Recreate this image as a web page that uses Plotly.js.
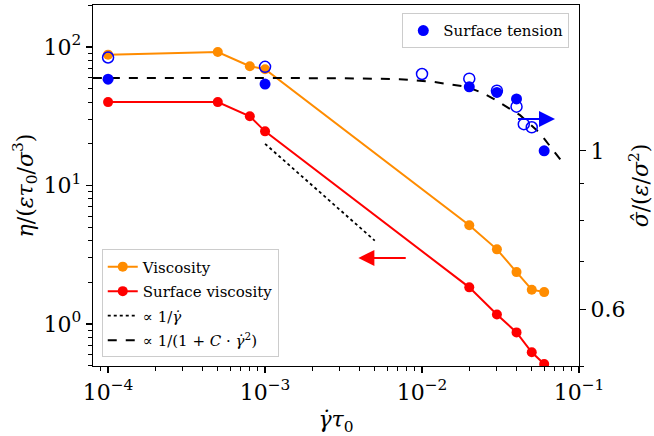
<!DOCTYPE html>
<html>
<head>
<meta charset="utf-8">
<script src="https://cdn.plot.ly/plotly-3.0.1.min.js"></script>
<style>html,body{margin:0;padding:0;background:#fff}#chart{width:654px;height:436px}</style>
</head>
<body>
<div id="chart"></div>
<script>
// ---- data ----
const shearRate = [1e-4, 5e-4, 8e-4, 1e-3, 0.02, 0.03, 0.04, 0.05, 0.06];
const viscosity = [88, 92, 72.6, 69, 5.16, 3.46, 2.37, 1.77, 1.70];
const surfaceViscosity = [40, 40, 31.6, 24.6, 1.84, 1.17, 0.87, 0.625, 0.514];

const slopeX = [1e-3, 5e-3];
const slopeY = [20, 4];

const fitX = [8e-5, 1e-3, 3e-3, 0.0072, 0.0118, 0.0193, 0.0246, 0.030, 0.0421, 0.0565, 0.0787];
const fitY = [1.265, 1.265, 1.264, 1.260, 1.249, 1.229, 1.204, 1.175, 1.122, 1.058, 0.963];

const tensionFilledX = [1e-4, 1e-3, 0.02, 0.03, 0.04, 0.06];
const tensionFilledY = [1.26, 1.24, 1.229, 1.207, 1.182, 1.0];

const tensionOpenX = [1e-4, 1e-3, 0.01, 0.02, 0.03, 0.04, 0.0445, 0.05];
const tensionOpenY = [1.351, 1.311, 1.281, 1.262, 1.214, 1.153, 1.09, 1.079];

const xTickVals = [1e-4, 1e-3, 1e-2, 1e-1];
const xTickText = ['10<sup>−4</sup>', '10<sup>−3</sup>', '10<sup>−2</sup>', '10<sup>−1</sup>'];
const yTickVals = [1, 10, 100];
const yTickText = ['10<sup>0</sup>', '10<sup>1</sup>', '10<sup>2</sup>'];
const y2TickVals = [0.6, 1];
const y2TickText = ['0.6', '1'];

// minor tick positions (log decades)
const xMinor = [9e-5];
[1e-4, 1e-3, 1e-2].forEach(d => { for (let k = 2; k <= 9; k++) xMinor.push(k * d); });
const yMinor = [0.5, 0.6, 0.7, 0.8, 0.9];
[1, 10].forEach(d => { for (let k = 2; k <= 9; k++) yMinor.push(k * d); });
yMinor.push(200);
const y2Minor = [0.5, 0.7, 0.8, 0.9];

const FONT = 'DejaVu Serif';

const traces = [
  {x: shearRate, y: viscosity, mode: 'lines+markers', name: 'Viscosity',
   line: {color: '#FF8C00', width: 2}, marker: {color: '#FF8C00', size: 10},
   legend: 'legend', legendgroup: 'a'},
  {x: shearRate, y: surfaceViscosity, mode: 'lines+markers', name: 'Surface viscosity',
   line: {color: '#FF0000', width: 2}, marker: {color: '#FF0000', size: 10},
   legend: 'legend', legendgroup: 'b'},
  {x: slopeX, y: slopeY, mode: 'lines', name: '∝ 1/<i>γ̇</i>',
   line: {color: 'black', width: 1.8, dash: 'dot'}, legend: 'legend', legendgroup: 'c'},
  {x: fitX, y: fitY, yaxis: 'y2', mode: 'lines', name: '∝ 1/(1 + <i>C</i> · <i>γ̇</i><sup>2</sup>)',
   line: {color: 'black', width: 2, dash: 'dash'}, legend: 'legend', legendgroup: 'd'},
  {x: tensionOpenX, y: tensionOpenY, yaxis: 'y2', mode: 'markers', showlegend: false,
   marker: {symbol: 'circle-open', color: '#0000FF', size: 11, line: {width: 1.5, color: '#0000FF'}}},
  {x: tensionFilledX, y: tensionFilledY, yaxis: 'y2', mode: 'markers', name: 'Surface tension',
   marker: {color: '#0000FF', size: 11}, legend: 'legend2'}
];

const axisCommon = {
  showgrid: false, zeroline: false, showline: true, linecolor: 'black', linewidth: 1.2,
  ticks: 'outside', ticklen: 6, tickwidth: 1.2, tickcolor: 'black',
  tickfont: {family: FONT, size: 22, color: 'black'}, tickmode: 'array'
};

const layout = {
  width: 654, height: 436,
  margin: {l: 93, r: 75, t: 5, b: 70},
  paper_bgcolor: 'white', plot_bgcolor: 'white',
  font: {family: FONT, color: 'black'},
  xaxis: Object.assign({}, axisCommon, {
    type: 'log', range: [-4.096, -1], mirror: true,
    tickvals: xTickVals, ticktext: xTickText,
    minor: {tickmode: 'array', tickvals: xMinor, ticks: 'outside', ticklen: 3.5, tickwidth: 1, tickcolor: 'black', showgrid: false},
    title: {text: '<i>γ̇τ</i><sub>0</sub>', font: {family: FONT, size: 22}, standoff: 10}
  }),
  yaxis: Object.assign({}, axisCommon, {
    type: 'log', range: [-0.303, 2.303],
    tickvals: yTickVals, ticktext: yTickText,
    minor: {tickmode: 'array', tickvals: yMinor, ticks: 'outside', ticklen: 3.5, tickwidth: 1, tickcolor: 'black', showgrid: false},
    title: {text: '<i>η</i>/(<i>ετ</i><sub>0</sub>/<i>σ</i><sup>3</sup>)', font: {family: FONT, size: 22}, standoff: 4}
  }),
  yaxis2: Object.assign({}, axisCommon, {
    type: 'log', range: [Math.log10(0.5), Math.log10(1.6)],
    overlaying: 'y', side: 'right',
    tickvals: y2TickVals, ticktext: y2TickText,
    minor: {tickmode: 'array', tickvals: y2Minor, ticks: 'outside', ticklen: 3.5, tickwidth: 1, tickcolor: 'black', showgrid: false},
    title: {text: '<i>σ̂</i>/(<i>ε</i>/<i>σ</i><sup>2</sup>)', font: {family: FONT, size: 22}, standoff: 8}
  }),
  legend: {
    x: 0.018, y: 0.323, xanchor: 'left', yanchor: 'top',
    bgcolor: 'rgba(255,255,255,0.8)', bordercolor: '#cccccc', borderwidth: 1,
    font: {family: FONT, size: 15, color: 'black'}, traceorder: 'grouped', tracegroupgap: 2
  },
  legend2: {
    x: 0.98, y: 0.977, xanchor: 'right', yanchor: 'top',
    bgcolor: 'rgba(255,255,255,0.8)', bordercolor: '#cccccc', borderwidth: 1,
    font: {family: FONT, size: 15, color: 'black'}
  },
  annotations: [
    {xref: 'x', yref: 'y2', axref: 'x', ayref: 'y2',
     x: Math.log10(0.0703), y: Math.log10(1.108), ax: Math.log10(0.040), ay: Math.log10(1.108),
     text: '', showarrow: true, arrowhead: 2, arrowsize: 1.6, arrowwidth: 2, arrowcolor: '#0000FF', standoff: 0},
    {xref: 'x', yref: 'y', axref: 'x', ayref: 'y',
     x: Math.log10(0.00393), y: Math.log10(3), ax: Math.log10(0.00805), ay: Math.log10(3),
     text: '', showarrow: true, arrowhead: 2, arrowsize: 1.6, arrowwidth: 2, arrowcolor: '#FF0000', standoff: 0}
  ]
};

Plotly.newPlot('chart', traces, layout, {displayModeBar: false, staticPlot: true});
</script>
</body>
</html>
